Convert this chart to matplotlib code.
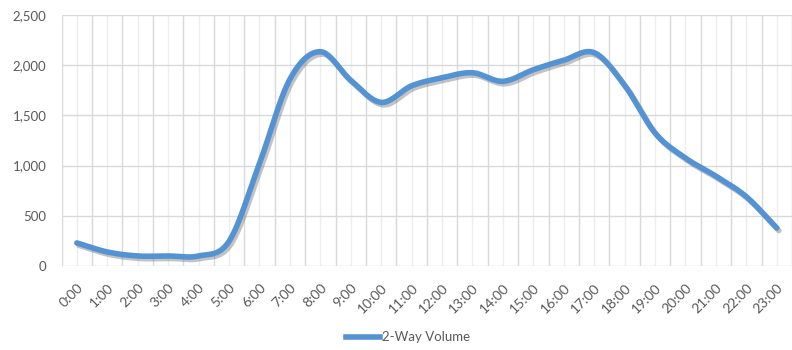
import numpy as np
import matplotlib
matplotlib.use("Agg")
import matplotlib.pyplot as plt
import matplotlib.patheffects as pe
from matplotlib.lines import Line2D

plt.rcParams['font.family'] = ['Lato', 'DejaVu Sans']

# Hourly two-way traffic volume
hours = [f"{h}:00" for h in range(24)]
volume = [230, 140, 100, 100, 100, 245, 1020, 1860, 2135, 1850, 1630, 1795,
          1875, 1925, 1840, 1955, 2050, 2125, 1800, 1325, 1075, 895, 690, 378]
y_ticks = [0, 500, 1000, 1500, 2000, 2500]
series_name = "2-Way Volume"

LINE_COLOR = "#5393d3"
TEXT_COLOR = "#595959"


def smooth_curve(xs, ys, n=40):
    """Catmull-Rom (Bezier) smoothing, similar to spreadsheet smoothed lines."""
    pts = np.column_stack([xs, ys]).astype(float)
    ext = np.vstack([pts[0] - (pts[1] - pts[0]), pts, pts[-1] + (pts[-1] - pts[-2])])
    out = []
    for i in range(1, len(ext) - 2):
        p0, p1, p2, p3 = ext[i - 1], ext[i], ext[i + 1], ext[i + 2]
        c1 = p1 + (p2 - p0) / 6.0
        c2 = p2 - (p3 - p1) / 6.0
        t = np.linspace(0, 1, n, endpoint=(i == len(ext) - 3))[:, None]
        seg = ((1 - t) ** 3) * p1 + 3 * ((1 - t) ** 2) * t * c1 + 3 * (1 - t) * t ** 2 * c2 + t ** 3 * p2
        out.append(seg)
    out = np.vstack(out)
    return out[:, 0], out[:, 1]


fig = plt.figure(figsize=(7.92, 3.5), dpi=100)
ax = fig.add_axes([0.0778, 0.24, 0.9222, 0.717])

x = np.arange(len(hours))
sx, sy = smooth_curve(x, volume)
ax.plot(sx, sy, color=LINE_COLOR, lw=4.0, solid_capstyle='round', zorder=3,
        path_effects=[pe.SimpleLineShadow(offset=(1.5, -1.8), shadow_color='#7a7a7a', alpha=0.45),
                      pe.Normal()])

ax.set_xlim(-0.5, 23.21)
ax.set_ylim(0, 2500)

ax.set_yticks(y_ticks)
ax.set_yticklabels([f"{v:,}" for v in y_ticks])
ax.set_xticks(x)
ax.set_xticklabels(hours, rotation=45, ha='right', va='top', rotation_mode='anchor')
ax.set_xticks(np.arange(-0.5, 24, 1), minor=True)

ax.grid(axis='y', which='major', color='#d9d9d9', lw=1.0)
ax.grid(axis='x', which='minor', color='#d9d9d9', lw=1.0)
ax.grid(axis='x', which='major', color='#eeeeee', lw=1.0)
ax.set_axisbelow(True)

for s in ax.spines.values():
    s.set_visible(False)

ax.tick_params(axis='both', which='both', length=0, colors=TEXT_COLOR)
ax.tick_params(axis='y', pad=11, labelsize=9.5)
ax.tick_params(axis='x', pad=11, labelsize=10)

handle = Line2D([], [], color=LINE_COLOR, lw=4.0)
fig.legend([handle], [series_name], loc='lower center', bbox_to_anchor=(0.515, -0.015),
           frameon=False, fontsize=9.5, labelcolor=TEXT_COLOR, handlelength=2.6,
           handletextpad=0.1)

fig.savefig("out.png", dpi=100, facecolor='white')
